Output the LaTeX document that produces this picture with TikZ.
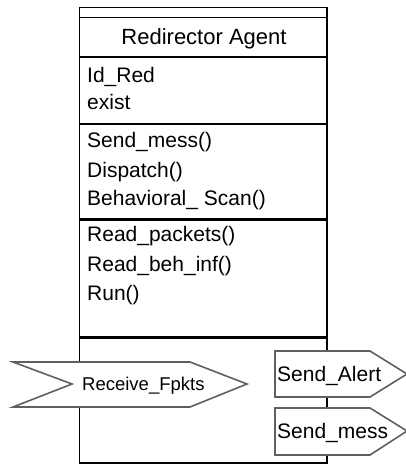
\documentclass[tikz,border=0pt]{standalone}
\usepackage{fontspec}
\setmainfont{Liberation Sans}
\begin{document}
\begin{tikzpicture}[x=1pt,y=-1pt,
  txt/.style={anchor=base west,inner sep=0pt,font=\fontsize{21}{24}\selectfont},
  port/.style={draw=gray!75!black,line width=1.6pt,fill=white,line join=miter},
  thin/.style={line width=1.1pt},
  thick/.style={line width=3pt}]
\useasboundingbox (0,0) rectangle (406,465);
% main class box
\draw[thin] (79.5,7.5) rectangle (327,463);
\draw[thin] (79.5,17.5) -- (327,17.5);
\draw[thin] (79.5,57) -- (327,57);
\draw[thin] (79.5,124) -- (327,124);
\draw[thick] (79.5,219) -- (327,219);
\draw[thick] (79.5,337) -- (327,337);
% texts
\node[txt,anchor=base,font=\fontsize{22}{24}\selectfont] (title) at (204,45) {Redirector Agent};
\node[txt] (a1) at (87,83) {Id\_Red};
\node[txt] (a2) at (87,110) {exist};
\node[txt] (m1) at (87,148) {Send\_mess()};
\node[txt] (m2) at (87,177) {Dispatch()};
\node[txt] (m3) at (87,205) {Behavioral\_ Scan()};
\node[txt] (m4) at (87,241) {Read\_packets()};
\node[txt] (m5) at (87,271) {Read\_beh\_inf()};
\node[txt] (m6) at (87,300) {Run()};
% ports
\draw[port] (13,362) -- (190,362) -- (247,384) -- (190,407) -- (13,407) -- (72,384) -- cycle;
\node[txt,font=\fontsize{18.5}{20}\selectfont] (rf) at (82,390) {Receive\_Fpkts};
\draw[port] (275,351) -- (370,351) -- (407,374) -- (370,397) -- (275,397) -- cycle;
\node[txt] (sa) at (277,381) {Send\_Alert};
\draw[port] (275,408) -- (370,408) -- (407,431) -- (370,455) -- (275,455) -- cycle;
\node[txt] (sm) at (277,438) {Send\_mess};
\end{tikzpicture}
\end{document}
